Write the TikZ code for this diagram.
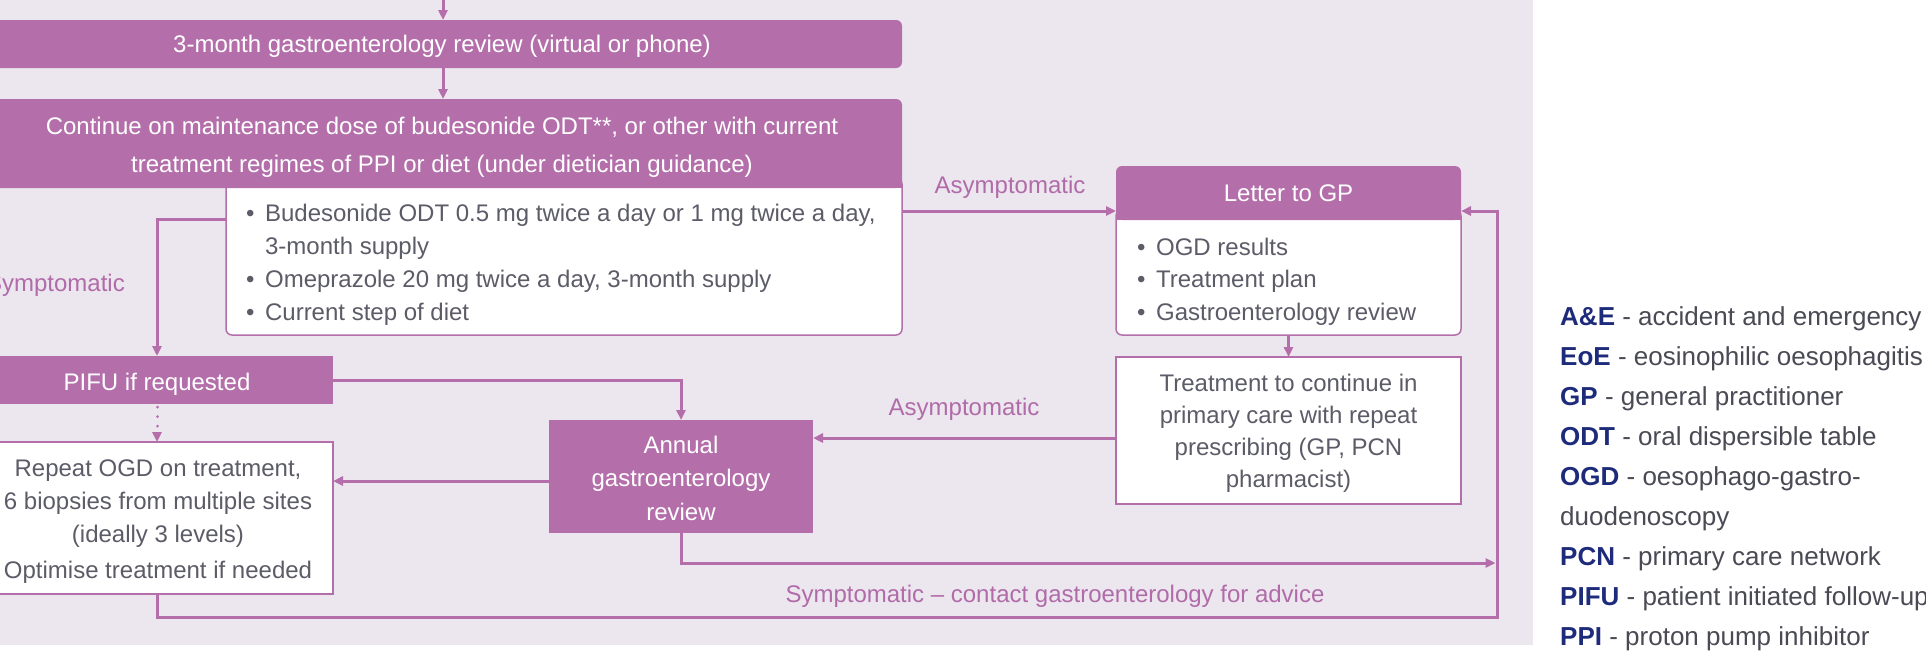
\documentclass[tikz,border=0pt]{standalone}
\usepackage{fontspec}
\setmainfont{Liberation Sans}
\usetikzlibrary{arrows.meta}
\definecolor{purp}{HTML}{B46FAB}
\definecolor{lav}{HTML}{ECE6EF}
\definecolor{lbl}{HTML}{B06BA8}
\definecolor{gtxt}{HTML}{5C5C68}
\definecolor{navy}{HTML}{1E2B7A}
\definecolor{ltxt}{HTML}{4A4A55}
\newcommand\legab[1]{\textcolor{navy}{\bfseries #1}}
\begin{document}
\begin{tikzpicture}[x=1pt,y=-1pt,
  ff/.style={font=\fontsize{24}{33.3}\selectfont},
  pbox/.style={fill=purp, draw=none, inner sep=0pt, outer sep=0pt},
  wbox/.style={fill=white, draw=purp, line width=1.5pt, inner sep=0pt, outer sep=0pt},
  conn/.style={draw=purp, line width=3pt, -{Triangle[length=10pt,width=9pt]}},
  wt/.style={text=white, inner sep=0pt, anchor=base},
  gt/.style={text=gtxt, inner sep=0pt, anchor=base},
  lab/.style={text=lbl, font=\fontsize{24}{30}\selectfont, inner sep=0pt, anchor=base},
]
\useasboundingbox (0,0) rectangle (1926,653);
\fill[white] (0,0) rectangle (1926,653);
\fill[lav] (0,0) rectangle (1533,645);

% helper coordinates
\coordinate (y211) at (0,211);
\coordinate (y219) at (0,219);
\coordinate (y438) at (0,438);
\coordinate (y481) at (0,481);
\coordinate (y563) at (0,563);
\coordinate (loopBR) at (1497,617);
\coordinate (loopTR) at (1497,211);
\coordinate (topin) at (443,0);

% box 1
\node[pbox, rounded corners=6pt, minimum width=920pt, minimum height=48pt] (b1) at (442,44) {};
\node[wt, ff] (b1t) at (442,52) {3-month gastroenterology review (virtual or phone)};

% bullet box under header 2
\node[wbox, rounded corners=6pt, minimum width=676pt, minimum height=157pt] (bl) at (564,256.5) {};
% header 2
\node[pbox, rounded corners=6pt, minimum width=920pt, minimum height=89pt] (b2h) at (442,143.5) {};
\fill[purp] (b2h.west) rectangle (b2h.south east);
\node[wt, font=\fontsize{24}{38}\selectfont] (b2t) at (442,134) {\begin{tabular}[t]{@{}c@{}}Continue on maintenance dose of budesonide ODT**, or other with current\\ treatment regimes of PPI or diet (under dietician guidance)\end{tabular}};
\node[gt, ff, anchor=base west] (blt) at (246,221) {\begin{tabular}[t]{@{}l@{\hspace{10.5pt}}l@{}}\textbullet & Budesonide ODT 0.5 mg twice a day or 1 mg twice a day,\\ & 3-month supply\\ \textbullet & Omeprazole 20 mg twice a day, 3-month supply\\ \textbullet & Current step of diet\end{tabular}};

% Letter to GP
\node[wbox, rounded corners=6pt, minimum width=345pt, minimum height=125pt] (lb) at (1288.5,272.5) {};
\node[pbox, rounded corners=6pt, minimum width=345pt, minimum height=54pt] (lh) at (1288.5,193) {};
\fill[purp] (lh.west) rectangle (lh.south east);
\node[wt, ff] (lht) at (1288.5,201) {Letter to GP};
\node[gt, font=\fontsize{24}{32.5}\selectfont, anchor=base west] (lbt) at (1137,255) {\begin{tabular}[t]{@{}l@{\hspace{10.5pt}}l@{}}\textbullet & OGD results\\ \textbullet & Treatment plan\\ \textbullet & Gastroenterology review\end{tabular}};

% Treatment box
\node[wbox, minimum width=345pt, minimum height=147pt] (tr) at (1288.5,430.5) {};
\node[gt, font=\fontsize{24}{32.3}\selectfont] (trt) at (1288.5,391) {\begin{tabular}[t]{@{}c@{}}Treatment to continue in\\ primary care with repeat\\ prescribing (GP, PCN\\ pharmacist)\end{tabular}};

% Annual review
\node[pbox, minimum width=264pt, minimum height=113pt] (an) at (681,476.5) {};
\node[wt, font=\fontsize{24}{33.5}\selectfont] (ant) at (681,453) {\begin{tabular}[t]{@{}c@{}}Annual\\ gastroenterology\\ review\end{tabular}};

% PIFU
\node[pbox, minimum width=352pt, minimum height=48pt] (pifu) at (157,380) {};
\node[wt, ff] (pifut) at (157,390) {PIFU if requested};

% Repeat OGD
\node[wbox, minimum width=352pt, minimum height=152pt] (rp) at (157,518) {};
\node[gt, font=\fontsize{24}{33}\selectfont] (rpt) at (158,476) {\begin{tabular}[t]{@{}c@{}}Repeat OGD on treatment,\\ 6 biopsies from multiple sites\\ (ideally 3 levels)\\[3pt] Optimise treatment if needed\end{tabular}};

% connectors
\draw[conn] (topin) -- (b1.north -| topin);
\draw[conn] (b1.south -| topin) -- (b2h.north -| topin);
\draw[conn] (bl.east |- y211) -- (lh.west |- y211);
\node[lab] (asy1) at (1010,193) {Asymptomatic};
\draw[conn] (lb.south) -- (tr.north);
\draw[conn] (tr.west |- y438) -- (an.east |- y438);
\node[lab] (asy2) at (964,415) {Asymptomatic};
\draw[conn] (rp.south) -- (rp.south |- loopBR) -- (loopBR) -- (loopTR) -- (lh.east |- loopTR);
\draw[conn] (an.south) -- (an.south |- y563) -- ([xshift=-1.5pt]loopBR |- y563);
\node[lab] (sym2) at (1055,602) {Symptomatic – contact gastroenterology for advice};
\draw[conn] (bl.west |- y219) -- (pifu.north |- y219) -- (pifu.north);
\node[lab, anchor=base east] (sym1) at (125,291) {Symptomatic};
\draw[conn, line cap=round, dash pattern=on 0.01pt off 9.5pt] ([yshift=-3pt]pifu.south) -- (rp.north);
\draw[conn] (pifu.east) -- (an.north |- pifu.east) -- (an.north);
\draw[conn] (an.west |- y481) -- (rp.east |- y481);

% legend
\node[inner sep=0pt, anchor=base west, text=ltxt, font=\fontsize{26}{40}\selectfont] (leg) at (1560,325) {\begin{tabular}[t]{@{}l@{}}\legab{A\&E} - accident and emergency\\ \legab{EoE} - eosinophilic oesophagitis\\ \legab{GP} - general practitioner\\ \legab{ODT} - oral dispersible table\\ \legab{OGD} - oesophago-gastro-\\ duodenoscopy\\ \legab{PCN} - primary care network\\ \legab{PIFU} - patient initiated follow-up\\ \legab{PPI} - proton pump inhibitor\end{tabular}};
\end{tikzpicture}
\end{document}
